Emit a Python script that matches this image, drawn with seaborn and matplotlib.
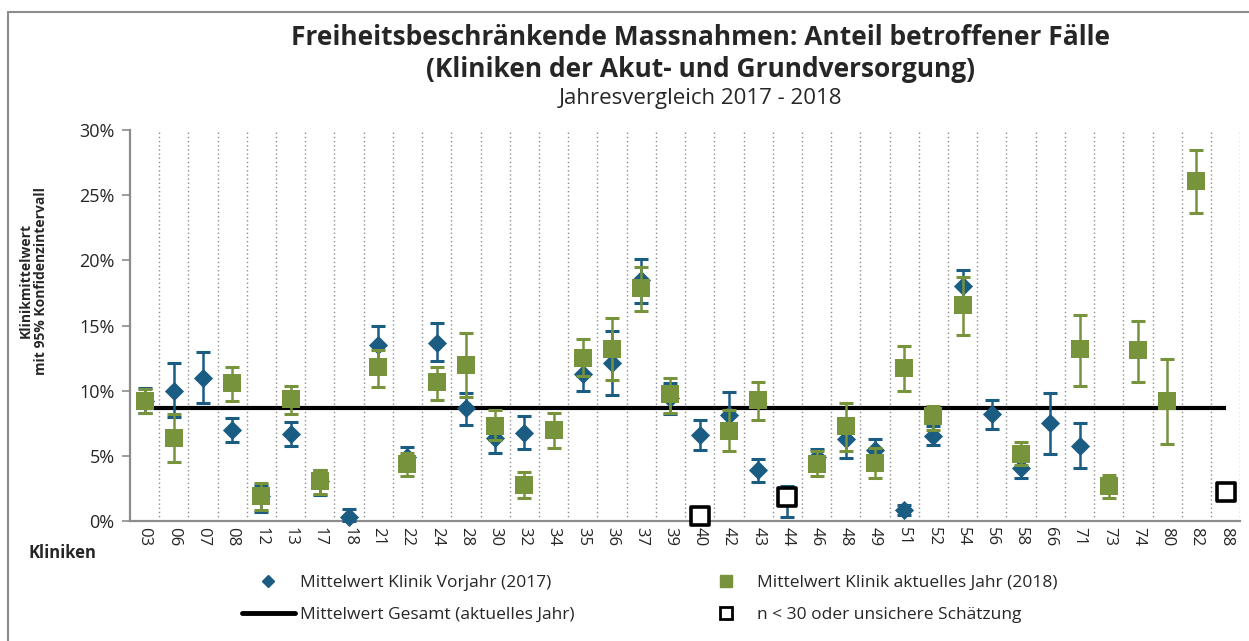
import numpy as np
import pandas as pd
import matplotlib
matplotlib.use("Agg")
import matplotlib.pyplot as plt
import seaborn as sns
from matplotlib.lines import Line2D

nan = np.nan

kliniken = ["03", "06", "07", "08", "12", "13", "17", "18", "21", "22",
            "24", "28", "30", "32", "34", "35", "36", "37", "39", "40",
            "42", "43", "44", "46", "48", "49", "51", "52", "54", "56",
            "58", "66", "71", "73", "74", "80", "82", "88"]

# Vorjahr 2017 (Mittelwert, untere/obere Grenze 95%-KI), in %
vorjahr_mw = [9.2, 10.0, 11.0, 7.0, 1.9, 6.7, 3.1, 0.3, 13.5, 4.9,
              13.7, 8.65, 6.4, 6.75, nan, 11.3, 12.1, 18.5, 9.45, 6.6,
              8.15, 3.9, 1.85, 4.9, 6.3, 5.45, 0.85, 6.55, 18.05, 8.2,
              4.1, 7.5, 5.8, nan, nan, nan, nan, nan]
vorjahr_lo = [8.3, 8.0, 9.05, 6.1, 0.7, 5.75, 2.0, 0.0, 12.2, 4.2,
              12.3, 7.4, 5.25, 5.5, nan, 10.0, 9.65, 16.75, 8.2, 5.45,
              6.5, 3.0, 0.35, 4.3, 4.85, 4.6, 0.5, 5.85, 16.8, 7.1,
              3.3, 5.15, 4.05, nan, nan, nan, nan, nan]
vorjahr_hi = [10.2, 12.1, 13.0, 7.95, 2.8, 7.6, 3.9, 0.95, 15.0, 5.65,
              15.2, 9.8, 7.5, 8.1, nan, 12.6, 14.6, 20.1, 10.6, 7.75,
              9.9, 4.8, 2.7, 5.55, 7.7, 6.3, 1.2, 7.3, 19.3, 9.3,
              4.9, 9.8, 7.5, nan, nan, nan, nan, nan]

# aktuelles Jahr 2018
aktuell_mw = [9.2, 6.4, nan, 10.6, 1.9, 9.35, 3.1, nan, 11.8, 4.35,
              10.65, 11.95, 7.3, 2.8, 7.0, 12.5, 13.2, 17.85, 9.75, nan,
              6.9, 9.3, nan, 4.4, 7.3, 4.45, 11.75, 8.05, 16.55, nan,
              5.15, nan, 13.2, 2.7, 13.1, 9.2, 26.1, nan]
aktuell_lo = [8.3, 4.5, nan, 9.25, 0.85, 8.25, 2.05, nan, 10.3, 3.45,
              9.3, 9.55, 6.2, 1.8, 5.6, 11.1, 10.85, 16.1, 8.3, nan,
              5.35, 7.75, nan, 3.45, 5.4, 3.3, 9.95, 7.0, 14.3, nan,
              4.3, nan, 10.4, 1.75, 10.7, 5.95, 23.65, nan]
aktuell_hi = [10.1, 8.2, nan, 11.85, 2.9, 10.35, 3.95, nan, 13.1, 5.2,
              11.85, 14.45, 8.55, 3.75, 8.3, 14.0, 15.55, 19.5, 10.95, nan,
              8.5, 10.7, nan, 5.4, 9.05, 5.6, 13.4, 8.8, 18.75, nan,
              6.05, nan, 15.8, 3.55, 15.35, 12.45, 28.5, nan]

# n < 30 oder unsichere Schaetzung
unsicher_kliniken = ["40", "44", "88"]
unsicher_werte = [0.4, 1.85, 2.2]

mittelwert_gesamt = 8.7

BLAU = "#1b5c82"
GRUEN = "#77933c"
GRAU = "#8c8c8c"

sns.set_theme(style="white")
plt.rcParams["font.family"] = ["Open Sans", "DejaVu Sans"]

df = pd.DataFrame({
    "klinik": kliniken,
    "vj_mw": vorjahr_mw, "vj_lo": vorjahr_lo, "vj_hi": vorjahr_hi,
    "ak_mw": aktuell_mw, "ak_lo": aktuell_lo, "ak_hi": aktuell_hi,
})
df["pos"] = np.arange(len(df))
uns = pd.DataFrame({"klinik": unsicher_kliniken, "wert": unsicher_werte})
uns["pos"] = uns["klinik"].map(dict(zip(df["klinik"], df["pos"])))

fig = plt.figure(figsize=(12.49, 6.41), dpi=100)
ax = fig.add_axes([0.104, 0.187, 0.889, 0.610])

# Mittelwert gesamt
ax.hlines(mittelwert_gesamt, df["pos"].iloc[0], df["pos"].iloc[-1],
          color="black", linewidth=3, zorder=2)

# Vorjahr
v = df.dropna(subset=["vj_mw"])
ax.errorbar(v["pos"], v["vj_mw"], yerr=[v["vj_mw"] - v["vj_lo"], v["vj_hi"] - v["vj_mw"]],
            fmt="none", ecolor=BLAU, elinewidth=1.8, capsize=4.7, capthick=2.2,
            zorder=3, clip_on=False)
sns.scatterplot(data=v, x="pos", y="vj_mw", marker="D", s=95, color=BLAU,
                linewidth=0, zorder=4, ax=ax, clip_on=False, legend=False)

# aktuelles Jahr
a = df.dropna(subset=["ak_mw"])
ax.errorbar(a["pos"], a["ak_mw"], yerr=[a["ak_mw"] - a["ak_lo"], a["ak_hi"] - a["ak_mw"]],
            fmt="none", ecolor=GRUEN, elinewidth=1.8, capsize=4.7, capthick=2.2,
            zorder=5, clip_on=False)
sns.scatterplot(data=a, x="pos", y="ak_mw", marker="s", s=185, color=GRUEN,
                linewidth=0, zorder=6, ax=ax, clip_on=False, legend=False)

# unsichere Schaetzungen
sns.scatterplot(data=uns, x="pos", y="wert", marker="s", s=150, facecolor="white",
                edgecolor="black", linewidth=2.6, zorder=7, ax=ax, clip_on=False,
                legend=False)

ax.set_xlim(-0.5, len(df) - 0.5)
ax.set_ylim(0, 30)
ax.set_xticks(df["pos"])
ax.set_xticklabels(df["klinik"], rotation=270, fontsize=12)
ax.set_xticks(np.arange(0.5, len(df), 1), minor=True)
ax.grid(which="minor", axis="x", color=GRAU, linestyle=(0, (1, 2)), linewidth=1)
ax.grid(which="major", axis="both", visible=False)
ax.set_yticks(np.arange(0, 31, 5))
ax.set_yticklabels([f"{t}%" for t in range(0, 31, 5)], fontsize=13)
ax.tick_params(axis="x", which="both", length=0, pad=4)
ax.tick_params(axis="y", length=6, width=1.2, color=GRAU, pad=5, left=True)
ax.set_xlabel("")
ax.set_ylabel("")
for s in ["top", "right"]:
    ax.spines[s].set_visible(False)
for s in ["left", "bottom"]:
    ax.spines[s].set_color(GRAU)
    ax.spines[s].set_linewidth(1.6)

fig.text(0.5605, 0.941, "Freiheitsbeschränkende Massnahmen: Anteil betroffener Fälle",
         ha="center", va="center", fontsize=19, fontweight="bold")
fig.text(0.5605, 0.891, "(Kliniken der Akut- und Grundversorgung)",
         ha="center", va="center", fontsize=19, fontweight="bold")
fig.text(0.5605, 0.847, "Jahresvergleich 2017 - 2018",
         ha="center", va="center", fontsize=16)
fig.text(0.027, 0.562, "Klinikmittelwert\nmit 95% Konfidenzintervall", rotation=90,
         ha="center", va="center", fontsize=10, fontweight="bold",
         multialignment="center", linespacing=1.1)
fig.text(0.023, 0.137, "Kliniken", ha="left", va="center", fontsize=12, fontweight="bold")

handles = [
    Line2D([], [], marker="D", color=BLAU, linestyle="none", markersize=6),
    Line2D([], [], color="black", linewidth=3.5),
    Line2D([], [], marker="s", color=GRUEN, linestyle="none", markersize=9),
    Line2D([], [], marker="s", markerfacecolor="white", markeredgecolor="black",
           markeredgewidth=2, linestyle="none", markersize=9),
]
labels = ["Mittelwert Klinik Vorjahr (2017)", "Mittelwert Gesamt (aktuelles Jahr)",
          "Mittelwert Klinik aktuelles Jahr (2018)", "n < 30 oder unsichere Schätzung"]
fig.legend(handles=handles, labels=labels, ncol=2, loc="center",
           bbox_to_anchor=(0.5204, 0.066), frameon=False, fontsize=12.5,
           handlelength=3.05, columnspacing=7.2, labelspacing=0.9, handletextpad=0.29)

# Rahmen (links und oben sichtbar)
fig.add_artist(Line2D([8 / 1249, 8 / 1249], [0, 1 - 12 / 641], transform=fig.transFigure,
                      color=GRAU, linewidth=1.5))
fig.add_artist(Line2D([8 / 1249, 1], [1 - 12 / 641, 1 - 12 / 641], transform=fig.transFigure,
                      color=GRAU, linewidth=1.5))

fig.savefig("out.png", dpi=100)
